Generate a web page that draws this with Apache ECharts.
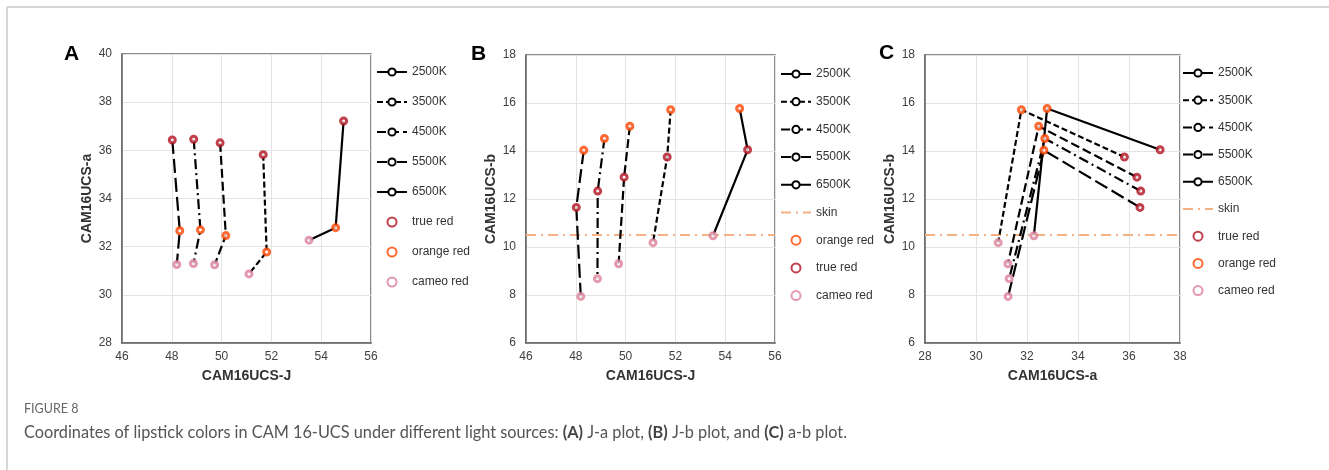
<!DOCTYPE html>
<html lang="en">
<head>
    <meta charset="UTF-8">
    <title>Figure 8</title>
    <script src="https://cdn.jsdelivr.net/npm/echarts@6/dist/echarts.min.js"></script>
</head>
<body style="margin:0;background:#fff;">
    <div id="main" style="width: 1329px;height:470px;"></div>
    <script type="text/javascript">
        // light sources and lipstick colours
        var lightSources = ['2500K', '3500K', '4500K', '5500K', '6500K'];
        var lipsticks = ['true red', 'orange red', 'cameo red'];

        // CAM16-UCS coordinates, one value per light source
        var trueRedJ = [54.90, 51.67, 49.94, 48.88, 48.02];
        var trueRedA = [37.22, 35.82, 36.31, 36.46, 36.43];
        var trueRedB = [14.05, 13.75, 12.91, 12.33, 11.65];
        var orangeRedJ = [54.58, 51.81, 50.17, 49.15, 48.32];
        var orangeRedA = [32.79, 31.78, 32.46, 32.70, 32.66];
        var orangeRedB = [15.77, 15.72, 15.03, 14.52, 14.03];
        var cameoRedJ = [53.51, 51.10, 49.72, 48.87, 48.20];
        var cameoRedA = [32.27, 30.87, 31.25, 31.30, 31.26];
        var cameoRedB = [10.47, 10.18, 9.30, 8.68, 7.94];
        var skinB = 10.5;

        // axis ranges [min, max]
        var rangeJ = [46, 56];
        var rangeA = [28, 40];
        var rangeB = [6, 18];
        var rangeAc = [28, 38];

        var font = 'Liberation Sans, Arial, sans-serif';
        var lipColors = {'true red': '#B0101E', 'orange red': '#FF4500', 'cameo red': '#DC8099'};
        var dashes = ['solid', [6, 3], [9, 4], [10, 4, 2, 4], [14, 5]];

        // 每个面板的坐标
        function pts(xs, ys) {
            return xs.map(function (v, i) { return [v, ys[i]]; });
        }
        var panels = [
            {x: {t: trueRedJ, o: orangeRedJ, c: cameoRedJ}, y: {t: trueRedA, o: orangeRedA, c: cameoRedA}, order: ['t', 'o', 'c']},
            {x: {t: trueRedJ, o: orangeRedJ, c: cameoRedJ}, y: {t: trueRedB, o: orangeRedB, c: cameoRedB}, order: ['o', 't', 'c']},
            {x: {t: trueRedA, o: orangeRedA, c: cameoRedA}, y: {t: trueRedB, o: orangeRedB, c: cameoRedB}, order: ['t', 'o', 'c']}
        ];
        var keyName = {t: lipsticks[0], o: lipsticks[1], c: lipsticks[2]};

        var series = [];
        panels.forEach(function (p, pi) {
            lightSources.forEach(function (ls, i) {
                series.push({
                    name: ls,
                    type: 'line',
                    xAxisIndex: pi,
                    yAxisIndex: pi,
                    symbol: 'emptyCircle',
                    showSymbol: false,
                    itemStyle: {color: '#000'},
                    lineStyle: {color: '#000', width: 2.2, type: dashes[i]},
                    z: 2,
                    data: p.order.map(function (k) { return [p.x[k][i], p.y[k][i]]; })
                });
            });
            if (pi > 0) {
                var xr = pi === 1 ? rangeJ : rangeAc;
                series.push({
                    name: 'skin',
                    type: 'line',
                    xAxisIndex: pi,
                    yAxisIndex: pi,
                    symbol: 'circle',
                    showSymbol: false,
                    itemStyle: {color: 'rgba(0,0,0,0)'},
                    lineStyle: {color: '#F4B183', width: 2, type: [10, 5, 2, 5]},
                    z: 1,
                    data: [[xr[0], skinB], [xr[1], skinB]]
                });
            }
            ['t', 'o', 'c'].forEach(function (k) {
                series.push({
                    name: keyName[k],
                    type: 'scatter',
                    xAxisIndex: pi,
                    yAxisIndex: pi,
                    symbol: 'circle',
                    symbolSize: 6,
                    itemStyle: {color: '#fff', borderColor: lipColors[keyName[k]], borderWidth: 3},
                    z: 5,
                    data: pts(p.x[k], p.y[k])
                });
            });
        });

        var grids = [
            {left: 122, top: 54, width: 249, height: 289},
            {left: 526, top: 55, width: 249, height: 288},
            {left: 925, top: 55, width: 255, height: 288}
        ];
        var xNames = ['CAM16UCS-J', 'CAM16UCS-J', 'CAM16UCS-a'];
        var yNames = ['CAM16UCS-a', 'CAM16UCS-b', 'CAM16UCS-b'];
        var xRanges = [rangeJ, rangeJ, rangeAc];
        var yRanges = [rangeA, rangeB, rangeB];

        function axis(name, r, isX) {
            return {
                type: 'value',
                min: r[0], max: r[1], interval: 2,
                name: name,
                nameLocation: 'middle',
                nameGap: isX ? 26 : 28,
                nameTextStyle: {fontFamily: font, fontSize: 14, fontWeight: 'bold', color: '#333'},
                axisLine: {show: true, lineStyle: {color: '#666', width: 1.5}},
                axisTick: {show: false},
                axisLabel: {fontFamily: font, fontSize: 12, color: '#404040', margin: isX ? 8 : 10},
                splitLine: {show: true, lineStyle: {color: '#E3E3E3', width: 1}}
            };
        }

        var legendBase = {
            orient: 'vertical',
            itemWidth: 30,
            itemHeight: 9,
            textStyle: {fontFamily: font, fontSize: 12, color: '#333', lineHeight: 14},
            selectedMode: false
        };
        var legends = [
            Object.assign({}, legendBase, {left: 371, top: 60, itemGap: 16,
                data: lightSources.concat(['true red', 'orange red', 'cameo red'])}),
            Object.assign({}, legendBase, {left: 775, top: 62, itemGap: 13.7,
                data: lightSources.concat(['skin', 'orange red', 'true red', 'cameo red'])}),
            Object.assign({}, legendBase, {left: 1177, top: 61, itemGap: 13.2,
                data: lightSources.concat(['skin', 'true red', 'orange red', 'cameo red'])})
        ];

        var letter = function (t, x, y) {
            return {type: 'text', left: x, top: y, style: {text: t, fontFamily: font, fontSize: 21, fontWeight: 'bold', fill: '#000'}};
        };

        var option = {
            animation: false,
            backgroundColor: '#fff',
            grid: grids.map(function (g) { return Object.assign({show: true, borderColor: '#666', borderWidth: 1.5, backgroundColor: 'transparent'}, g); }),
            xAxis: xNames.map(function (n, i) { return Object.assign(axis(n, xRanges[i], true), {gridIndex: i}); }),
            yAxis: yNames.map(function (n, i) { return Object.assign(axis(n, yRanges[i], false), {gridIndex: i}); }),
            legend: legends,
            series: series,
            graphic: [
                {type: 'line', shape: {x1: 7, y1: 7, x2: 1329, y2: 7}, style: {stroke: '#C8C8C8', lineWidth: 1.5}},
                {type: 'line', shape: {x1: 7, y1: 7, x2: 7, y2: 470}, style: {stroke: '#C8C8C8', lineWidth: 1.5}},
                letter('A', 64, 44),
                letter('B', 471, 44),
                letter('C', 879, 43),
                {type: 'text', left: 24, top: 402, style: {text: 'FIGURE 8', fontFamily: 'Lato, sans-serif', fontSize: 12.5, fill: '#666'}},
                {type: 'text', left: 24, top: 425, style: {
                    text: 'Coordinates of lipstick colors in CAM 16-UCS under different light sources: {b|(A)} J-a plot, {b|(B)} J-b plot, and {b|(C)} a-b plot.',
                    fontFamily: 'Lato, sans-serif', fontSize: 16.3, fill: '#555',
                    rich: {b: {fontFamily: 'Lato, sans-serif', fontSize: 16.3, fontWeight: 'bold', fill: '#444'}}
                }}
            ]
        };

        var myChart = echarts.init(document.getElementById('main'));
        myChart.setOption(option);
    </script>
</body>
</html>
